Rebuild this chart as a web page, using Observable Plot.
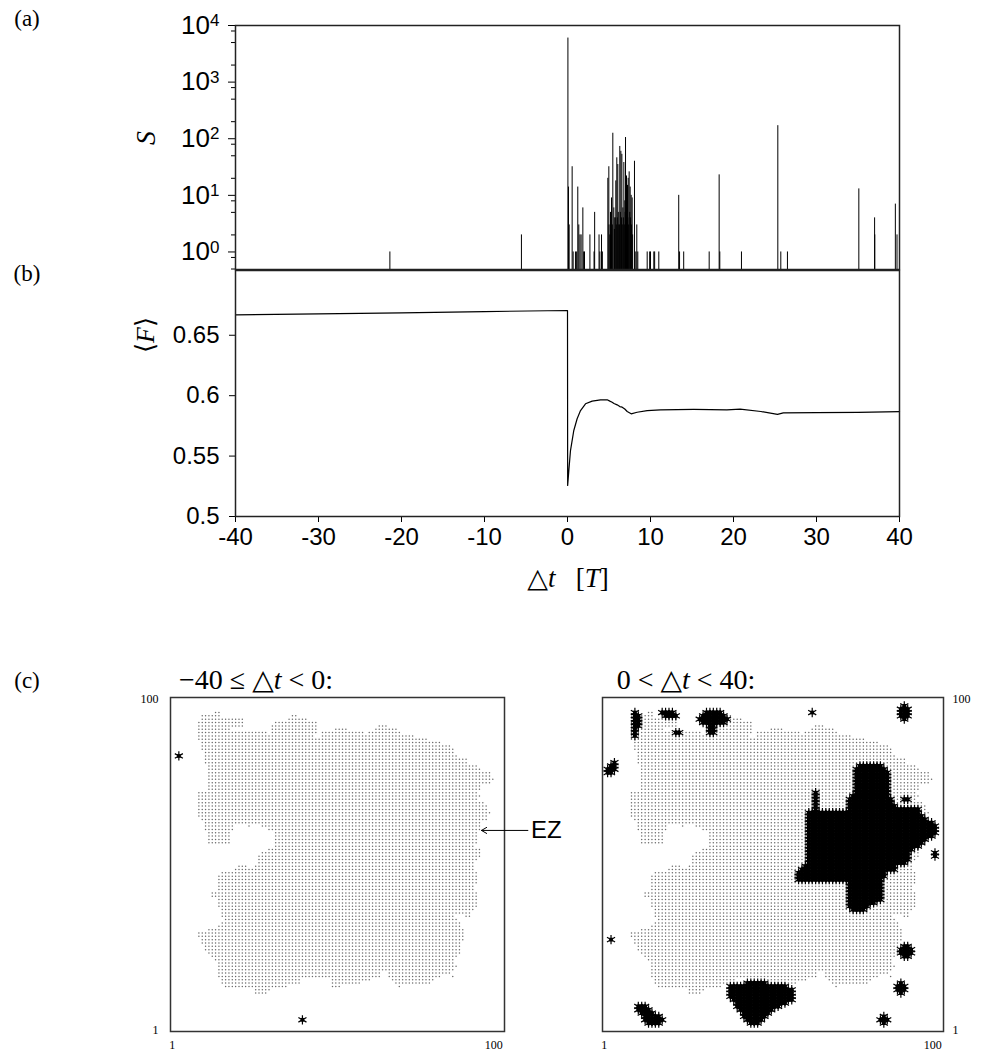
<!DOCTYPE html>
<html><head><meta charset="utf-8">
<script src="https://cdn.jsdelivr.net/npm/d3@7"></script>
<script src="https://cdn.jsdelivr.net/npm/@observablehq/plot@0.6"></script>
<style>
body{margin:0;background:#fff;}
#wrap{position:relative;width:981px;height:1057px;overflow:hidden;background:#fff;}
#wrap svg{position:absolute;overflow:visible;}
.lbl{position:absolute;font-family:"Liberation Serif","DejaVu Serif",serif;color:#000;white-space:nowrap;transform:translate(-50%,-50%);line-height:1;}
</style></head><body><div id="wrap"></div>
<script>
// ---------- Panel (a): avalanche sizes S vs Δt ----------
const barT = [-21.4,-5.55,0.05,0.12,0.2,0.56,0.68,0.96,1.1,1.24,1.36,1.5,1.64,1.85,1.95,2.05,2.7,3.2,3.27,3.8,3.9,4.1,4.2,
  4.86,4.98,5.0,5.1,5.18,5.25,5.3,5.4,5.46,5.58,5.65,5.7,5.75,5.82,5.88,5.94,6.0,6.06,6.12,6.18,6.25,6.3,6.37,6.43,6.5,6.55,6.6,6.67,6.73,6.79,6.85,6.91,6.95,6.99,7.05,7.11,7.17,7.23,7.27,7.31,7.37,7.43,7.5,7.55,7.6,7.67,7.72,7.79,7.85,8.07,8.23,8.35,8.47,
  9.6,9.9,10.0,10.4,10.5,11.0,13.4,13.5,14.0,17.07,18.27,18.35,20.96,25.34,25.7,26.5,35.1,37.0,37.02,39.5,39.7];
const barS = [1,2,6000,14,3,32,1,1,1,14,3,2,2,6,1,1,2,1,5,2,1,2,1,
  20,32,3,2,5,2,9,3,125,6,2.5,4,4,18,3,46,4,35,5,3,3,73,5,60,4,53,3,6,4,38,3,8,5,105,4,22,6,15,4,20,3,26,5,14,4,10,3,9,2,40,1,3,1,
  1,1,1,1,1,1,10,1,1,1,23,1,1,170,1,1,13,4,2,7,2];
const sMajor = [1,10,100,1000,10000];
const sMinor = [0.5,0.8,2,5,8,20,50,80,200,500,800,2000,5000,8000];

// ---------- Panel (b): mean force <F> vs Δt ----------
const fT = [-40,-30,-20,-10,0,0.02,0.16,0.36,0.76,1.16,1.57,2.17,2.97,3.98,4.78,5.1,5.38,5.6,5.98,6.3,6.59,6.9,7.19,7.67,8.39,9.6,11.2,15.2,19.2,20.8,23.3,25.3,26.0,30,35,40];
const fV = [0.6668,0.6677,0.6686,0.6696,0.6705,0.5257,0.538,0.5546,0.5712,0.5809,0.5877,0.5933,0.5955,0.5966,0.5966,0.5955,0.5946,0.5935,0.5924,0.591,0.5905,0.589,0.5869,0.585,0.5863,0.5877,0.5883,0.5886,0.5883,0.5888,0.5869,0.5845,0.5858,0.586,0.5862,0.5868];
const xTicks = [-40,-30,-20,-10,0,10,20,30,40];
const fTicks = [0.5,0.55,0.6,0.65];

// ---------- Panel (c): lattice maps (100 x 100) ----------
// EZ region: row runs [y, xStart, xEnd]
const ezRuns = [
[96,14,15],[95,10,15],[95,37,38],[94,10,22],[94,36,41],[93,9,22],[93,32,44],
[92,9,22],[92,31,44],[92,63,65],[91,9,18],[91,31,44],[91,50,53],[91,62,68],
[90,9,29],[90,31,44],[90,46,58],[90,60,69],[89,9,43],[89,46,73],[88,9,77],[87,10,81],
[86,10,84],[85,10,85],[84,11,85],[83,11,86],[82,11,89],[81,11,89],[80,12,92],[79,12,93],
[78,12,96],[77,12,96],[76,12,97],[75,12,96],[74,12,93],[73,12,93],[72,9,92],[71,9,93],
[70,9,92],[69,9,94],[68,9,95],[67,9,95],[66,9,96],[65,9,95],[64,10,95],[63,11,93],
[62,11,19],[62,24,24],[62,28,93],[61,11,19],[61,30,93],[60,12,18],[60,32,92],
[59,12,18],[59,32,92],[58,12,18],[58,32,92],[57,12,18],[57,32,92],[56,32,91],
[55,30,93],[54,28,93],[53,27,93],[52,27,92],[51,27,91],[50,21,23],[50,26,91],
[49,20,91],[48,16,92],[47,15,92],[46,15,92],[45,15,92],[44,15,91],[43,15,91],
[42,13,92],[41,13,92],[40,15,92],[39,15,92],[38,15,92],[37,16,91],[36,16,90],
[35,16,85],[35,89,90],[34,17,86],[33,16,87],[32,15,87],[31,12,88],[30,9,88],
[29,9,88],[28,10,88],[27,10,87],[26,11,87],[25,11,87],[24,12,87],[23,13,86],
[22,14,85],[21,15,85],[20,15,86],[19,15,65],[19,66,85],[18,15,63],[18,66,84],
[17,15,63],[17,66,81],[17,85,85],[16,16,39],[16,49,60],[16,67,79],
[15,16,39],[15,49,57],[15,68,78],[14,17,35],[14,49,51],[14,69,69],[13,26,30],[12,26,29]
];
// active sites before the event
const beforeRuns = [[83,3,3],[4,40,40]];
// active sites after the event
const afterRuns = [
[96,10,10],[95,10,11],[94,10,11],[93,10,11],[92,10,11],[91,10,10],[90,10,10],[89,10,10],
[96,18,21],[95,19,22],[90,22,23],
[96,31,35],[95,30,36],[94,29,37],[93,30,36],[92,32,33],[91,32,33],[90,32,33],
[96,62,62],[98,89,89],[97,88,90],[96,88,90],[95,88,90],[94,89,89],
[81,4,4],[80,3,4],[79,2,4],[78,2,3],
[80,76,82],[79,75,83],[78,75,84],[77,75,84],[76,75,84],[75,75,84],[74,75,84],[73,75,84],
[72,75,84],[72,63,63],[71,74,84],[71,63,63],[70,73,85],[70,63,63],[70,89,90],[69,73,85],
[69,63,63],[68,73,86],[68,63,63],[67,73,93],[67,63,63],[66,61,93],[65,61,94],[64,61,95],
[63,61,97],[62,61,98],[61,61,98],[60,61,98],[59,61,97],[58,61,95],[57,61,94],[56,61,93],
[55,61,91],[54,61,90],[53,61,90],[52,61,90],[51,61,89],[50,60,86],[49,59,86],[48,58,83],
[47,58,83],[46,58,82],[45,73,82],[44,73,82],[43,73,82],[42,73,82],[41,73,82],[40,73,82],
[39,73,80],[38,73,78],[37,74,77],
[54,98,98],[53,98,98],
[26,89,90],[25,88,91],[24,88,91],[23,89,90],
[15,88,88],[14,87,89],[13,87,89],[12,88,88],
[5,83,83],[4,82,84],[3,83,83],
[15,43,48],[14,38,54],[13,38,56],[12,38,56],[11,38,56],[10,39,56],[9,40,54],[8,40,52],
[7,41,50],[6,42,49],[5,42,48],[4,43,47],[3,44,46],
[8,11,13],[7,11,14],[6,12,15],[5,13,17],[4,13,18],[3,14,17],
[28,3,3]
];
const mapTicks = [1,100];
const ezArrow = [{x1:107.5, y1:60.7, x2:93.6, y2:60.7, label:"EZ"}];

// ---------- build ----------
const wrap = document.getElementById("wrap");
const sans = "Liberation Sans, Arial, Helvetica, sans-serif";
const serif = "Liberation Serif, DejaVu Serif, serif";
function place(svg, left, top){ svg.style.left = left+"px"; svg.style.top = top+"px"; wrap.appendChild(svg); }
function label(html, cx, cy, size, rot){
  const d = document.createElement("div"); d.className = "lbl"; d.innerHTML = html;
  d.style.left = cx+"px"; d.style.top = cy+"px"; d.style.fontSize = size+"px";
  if (rot) d.style.transform = "translate(-50%,-50%) rotate("+rot+"deg)";
  wrap.appendChild(d);
}
const expand = runs => runs.flatMap(([y,a,b]) => d3.range(a, b+1).map(x => ({x, y})));

const barData = barT.map((t,i) => ({t, s: barS[i]}));
const plotA = Plot.plot({
  width: 981, height: 271, marginLeft: 235, marginRight: 82, marginTop: 25, marginBottom: 2,
  x: {domain: [-40, 40], axis: null},
  y: {type: "log", domain: [0.49, 10000], axis: null},
  style: {background: "transparent", color: "black", overflow: "visible"},
  marks: [
    Plot.ruleX(barData, {x: "t", y1: 0.49, y2: "s", stroke: "black", strokeWidth: 1}),
    Plot.axisY(sMinor, {tickSize: 4, tickFormat: () => "", label: null}),
    Plot.axisY(sMajor, {tickSize: 7, tickPadding: 9, label: null, fontSize: 26, fontFamily: sans,
      tickFormat: d => "10^" + Math.round(Math.log10(d))}),
    Plot.frame({stroke: "#222", strokeWidth: 1.5})
  ]
});
d3.select(plotA).selectAll('g[aria-label="y-axis tick label"] text').each(function(){
  const s = this.textContent; if (!s.includes("^")) return;
  const [b, e] = s.split("^");
  const t = d3.select(this); t.text("");
  t.append("tspan").text(b);
  t.append("tspan").attr("dy", "-0.45em").attr("font-size", "17px").text(e);
});
place(plotA, 0, 0);

const fData = fT.map((t,i) => ({t, f: fV[i]}));
const plotB = Plot.plot({
  width: 981, height: 331, marginLeft: 235, marginRight: 82, marginTop: 1, marginBottom: 84,
  x: {domain: [-40, 40], axis: null},
  y: {domain: [0.5, 0.7036], axis: null},
  style: {background: "transparent", color: "black", overflow: "visible"},
  marks: [
    Plot.line(fData, {x: "t", y: "f", stroke: "black", strokeWidth: 1.2}),
    Plot.axisX(xTicks, {tickSize: 6, tickPadding: 5, label: null, fontSize: 24, fontFamily: sans, tickFormat: d => String(d)}),
    Plot.axisY(fTicks, {tickSize: 6, tickPadding: 10, label: null, fontSize: 24, fontFamily: sans, tickFormat: d => String(d)}),
    Plot.frame({stroke: "#222", strokeWidth: 1.5})
  ]
});
place(plotB, 0, 269);

const ezSites = expand(ezRuns);
function mapPlot(width, ml, mr, active, side, extra){
  const sites = expand(active);
  return Plot.plot({
    width, height: 397, marginLeft: ml, marginRight: mr, marginTop: 37, marginBottom: 26,
    x: {domain: [0.5, 100.5], axis: null},
    y: {domain: [0.5, 100.5], axis: null},
    style: {background: "transparent", color: "black", overflow: "visible"},
    marks: [
      Plot.dot(ezSites, {x: "x", y: "y", r: 0.75, fill: "#6a6a6a", stroke: null}),
      Plot.dot(sites, {x: "x", y: "y", symbol: "square", r: 2.1, fill: "black", stroke: null}),
      Plot.dot(sites, {x: "x", y: "y", symbol: "asterisk", r: 4.4, stroke: "black", strokeWidth: 1.2}),
      Plot.frame({stroke: "#333", strokeWidth: 1.5}),
      Plot.text(mapTicks.filter(d => d === 1), {x: d => d, y: 0.5, dy: 14, text: d => String(d), fontFamily: serif, fontSize: 12}),
      Plot.text(mapTicks.filter(d => d === 100), {x: d => d, y: 0.5, dy: 14, text: d => String(d), textAnchor: "end", fontFamily: serif, fontSize: 12}),
      Plot.text(mapTicks, {x: side === "left" ? 0.5 : 100.5, y: d => d, dx: side === "left" ? -12 : 9, text: d => String(d),
        textAnchor: side === "left" ? "end" : "start", fontFamily: serif, fontSize: 12}),
      ...extra
    ]
  });
}
const mapL = mapPlot(620, 170, 116, beforeRuns, "left", [
  Plot.arrow(ezArrow, {x1: "x1", y1: "y1", x2: "x2", y2: "y2", stroke: "black", strokeWidth: 1, headLength: 9}),
  Plot.text(ezArrow, {x: "x1", y: "y1", text: "label", dx: 3, textAnchor: "start", fontFamily: sans, fontSize: 24})
]);
place(mapL, 0, 660);
const mapR = mapPlot(481, 102, 38, afterRuns, "right", []);
place(mapR, 500, 660);

// ---------- text labels ----------
label("(a)", 27, 18, 23);
label("(b)", 27, 273, 23);
label("(c)", 27, 680, 23);
label("<i>S</i>", 146, 138, 28, -90);
label("⟨<i>F</i>⟩", 146, 335, 26, -90);
label("△<i>t</i>&nbsp;&nbsp;&nbsp;[<i>T</i>]", 568, 578, 27);
label("−40 ≤ △<i>t</i> &lt; 0:", 256, 680, 28);
label("0 &lt; △<i>t</i> &lt; 40:", 686, 680, 28);
</script></body></html>
